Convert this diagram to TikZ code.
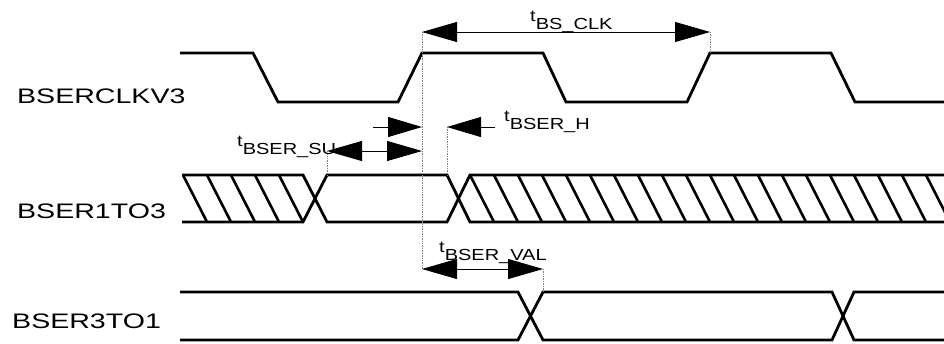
\documentclass[tikz,border=0pt]{standalone}
\usepackage{fontspec}
\setmainfont[FakeStretch=1.25]{Liberation Sans}
\newfontfamily\rowfont[FakeStretch=1.36]{Liberation Sans}
\usetikzlibrary{arrows.meta}
\tikzset{
  sig/.style={line width=2.8pt},
  hatch/.style={line width=2.6pt},
  guide/.style={densely dotted,gray,line width=0.7pt},
  dim/.style={line width=0.9pt,{Triangle[length=35pt,width=20pt]}-{Triangle[length=35pt,width=20pt]}},
  half/.style={line width=0.9pt,-{Triangle[length=34pt,width=20pt]}},
  rowlabel/.style={anchor=base west,inner sep=0pt,font=\rowfont\fontsize{21}{25}\selectfont},
  tlabel/.style={anchor=base west,inner sep=0pt,font=\fontsize{16}{19}\selectfont}
}
\newcommand{\tname}[1]{t\raisebox{-8pt}{#1}}
\begin{document}
\begin{tikzpicture}[x=1pt,y=-1pt]
\useasboundingbox (0,0) rectangle (944,343);
\clip (0,0) rectangle (944,343);
\node[rowlabel] (clk) at (17,103) {BSERCLKV3};
\node[rowlabel] (bus1) at (17,218) {BSER1TO3};
\node[rowlabel] (bus3) at (12,328) {BSER3TO1};
\draw[sig] (180,53) -- (253,53) -- (278,102) -- (398,102) -- (422,53) -- (543,53) -- (566,102) -- (687,102) -- (710,53) -- (831,53) -- (855,102) -- (950,102);
\draw[sig] (182,175) -- (303,175) -- (327,222) -- (447,222) -- (470,175) -- (950,175);
\draw[sig] (182,222) -- (303,222) -- (327,175) -- (447,175) -- (470,222) -- (950,222);
\foreach \x in {183,207,231,255,279}
  \draw[hatch] (\x,175) -- ++(24,47);
\foreach \x in {470,494,...,926}
  \draw[hatch] (\x,175) -- ++(24,47);
\draw[sig] (180,292) -- (518,292) -- (543,340) -- (832,340) -- (854,292) -- (950,292);
\draw[sig] (180,340) -- (518,340) -- (543,292) -- (832,292) -- (854,340) -- (950,340);
\coordinate (clkA) at (422,32);
\coordinate (clkB) at (710,32);
\coordinate (riseB) at (710,53);
\coordinate (suA) at (327,151);
\coordinate (suB) at (422,151);
\coordinate (suEdge) at (327,175);
\coordinate (hA) at (373,127);
\coordinate (hB) at (422,127);
\coordinate (hC) at (495,127);
\coordinate (hD) at (447,127);
\coordinate (hEdge) at (447,175);
\coordinate (valA) at (422,269);
\coordinate (valB) at (543,269);
\coordinate (valEdge) at (543,292);
\draw[guide] (clkA) -- (valA);
\draw[guide] (clkB) -- (riseB);
\draw[guide] (suA) -- (suEdge);
\draw[guide] (hD) -- (hEdge);
\draw[guide] (valB) -- (valEdge);
\draw[dim] (clkA) -- (clkB);
\draw[dim] (suA) -- (suB);
\draw[half] (hA) -- (hB);
\draw[half] (hC) -- (hD);
\draw[dim] (valA) -- (valB);
\node[tlabel] (tclk) at (530,21) {\tname{BS\_CLK}};
\node[tlabel] (tsu) at (237,146) {\tname{BSER\_SU}};
\node[tlabel] (th) at (504,121) {\tname{BSER\_H}};
\node[tlabel] (tval) at (439,252) {\tname{BSER\_VAL}};
\end{tikzpicture}
\end{document}
